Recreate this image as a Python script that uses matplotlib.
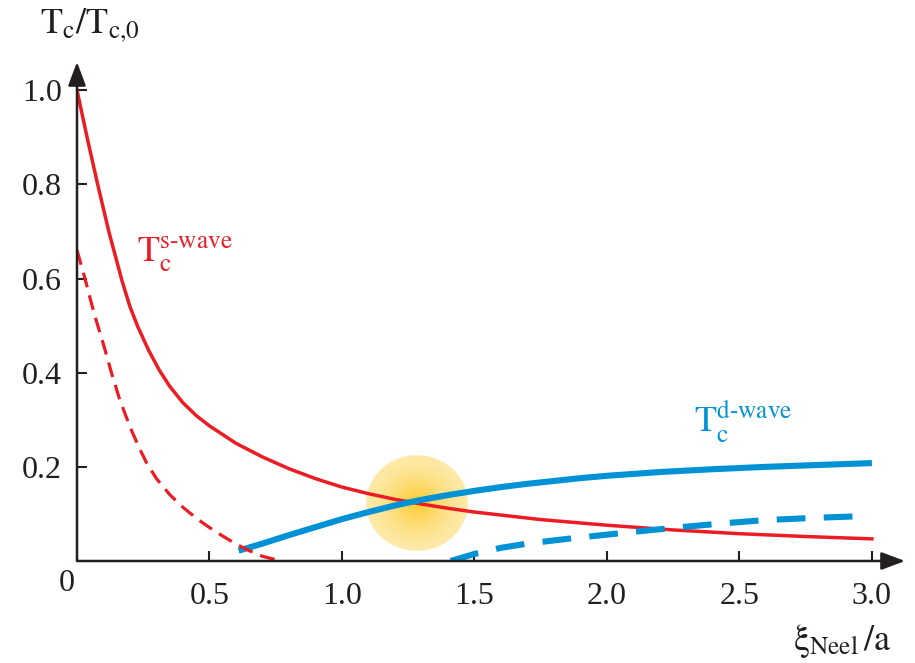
import matplotlib
matplotlib.use('Agg')
import matplotlib.pyplot as plt
import numpy as np

plt.rcParams['font.family'] = ['Liberation Serif', 'DejaVu Serif']
plt.rcParams['mathtext.fontset'] = 'stix'

# s-wave Tc (red), solid and dashed
s_x = [0.0, 0.04, 0.078, 0.12, 0.17, 0.20, 0.23, 0.27, 0.31, 0.35, 0.40, 0.45, 0.50,
       0.60, 0.70, 0.80, 0.90, 1.0, 1.1, 1.2, 1.3, 1.4, 1.5, 1.75, 2.0, 2.25, 2.5,
       2.75, 3.0]
s_y = [1.0, 0.895, 0.80, 0.70, 0.595, 0.54, 0.497, 0.448, 0.406, 0.371, 0.336, 0.309,
       0.287, 0.25, 0.221, 0.196, 0.175, 0.157, 0.143, 0.131, 0.121, 0.112, 0.104,
       0.088, 0.076, 0.066, 0.058, 0.052, 0.047]
s_dash_x = [0.0, 0.03, 0.065, 0.10, 0.13, 0.16, 0.20, 0.235, 0.263, 0.30, 0.35, 0.40,
            0.45, 0.50, 0.55, 0.60, 0.65, 0.70, 0.77]
s_dash_y = [0.66, 0.60, 0.525, 0.46, 0.40, 0.345, 0.285, 0.24, 0.208, 0.175, 0.141, 0.114,
            0.091, 0.071, 0.053, 0.036, 0.022, 0.01, 0.0]

# d-wave Tc (blue), solid and dashed
d_x = [0.61, 0.70, 0.80, 0.90, 1.0, 1.1, 1.2, 1.3, 1.4, 1.5, 1.6, 1.7, 1.8, 1.9, 2.0,
       2.2, 2.4, 2.6, 2.8, 3.0]
d_y = [0.022, 0.037, 0.055, 0.072, 0.089, 0.104, 0.118, 0.13, 0.14, 0.149, 0.157,
       0.164, 0.17, 0.176, 0.181, 0.189, 0.195, 0.20, 0.204, 0.208]
d_dash_x = [1.41, 1.50, 1.60, 1.70, 1.85, 2.0, 2.1, 2.3, 2.46, 2.6, 2.8, 2.95]
d_dash_y = [0.0, 0.015, 0.028, 0.037, 0.047, 0.056, 0.062, 0.073, 0.081, 0.087, 0.092, 0.095]

xticks = [0.5, 1.0, 1.5, 2.0, 2.5, 3.0]
yticks = [0.2, 0.4, 0.6, 0.8, 1.0]

red = '#ec1c24'
blue = '#0092d5'
dark = '#231f20'

W, H = 915, 663
fig = plt.figure(figsize=(W / 100, H / 100), dpi=100)
ax = fig.add_axes([77 / W, 1 - 561 / H, (905 - 77) / W, (561 - 62) / H])

# yellow glow at the crossing
cx, cy = 1.283, 0.123
rx, ry = 51 / 265, 48 / 471
n = 301
gx, gy = np.meshgrid(np.linspace(-1, 1, n), np.linspace(-1, 1, n))
r = np.hypot(gx, gy)
rgba = np.zeros((n, n, 4))
rgba[..., 0] = 0.99
rgba[..., 1] = 0.78
rgba[..., 2] = 0.10
rgba[..., 3] = np.where(r <= 1, 0.38 + 0.55 * np.clip(1 - r, 0, 1) ** 1.5, 0)
ax.imshow(rgba, extent=[cx - rx, cx + rx, cy - ry, cy + ry], origin='lower',
          aspect='auto', zorder=1, interpolation='bilinear')

ax.plot(s_x, s_y, color=red, lw=2.5, zorder=3)
ax.plot(d_x, d_y, color=blue, lw=4.4, zorder=4, solid_capstyle='butt')
ax.plot(d_dash_x, d_dash_y, color=blue, lw=4.4, zorder=4, dashes=(4.7, 3.0))
ax.plot(s_dash_x, s_dash_y, color=red, lw=2.3, zorder=5, dashes=(4.7, 2.6))

ax.set_xlim(0, 3.125)
ax.set_ylim(0, 1.06)

for s in ax.spines.values():
    s.set_visible(False)
arrow = dict(arrowstyle='-|>,head_length=0.8,head_width=0.3', mutation_scale=18,
             lw=1.8, color=dark, shrinkA=0, shrinkB=0)
ax.annotate('', xy=(1, 0), xytext=(0, 0), xycoords='axes fraction', arrowprops=arrow,
            annotation_clip=False, zorder=6)
ax.annotate('', xy=(0, 1), xytext=(0, 0), xycoords='axes fraction', arrowprops=arrow,
            annotation_clip=False, zorder=6)

ax.set_xticks(xticks)
ax.set_xticklabels(['%.1f' % v for v in xticks])
ax.set_yticks(yticks)
ax.set_yticklabels(['%.1f' % v for v in yticks])
ax.tick_params(direction='in', length=7, width=1.5, color=dark, labelcolor=dark,
               labelsize=23)
ax.tick_params(axis='x', pad=15)
ax.tick_params(axis='y', pad=11)
ax.text(-0.038, -0.047, '0', fontsize=23, color=dark, ha='center', va='center')

ax.text(0.226, 0.635, r'$\mathrm{T_c^{s\text{-}wave}}$', color=red, fontsize=26,
        ha='left', va='baseline')
ax.text(2.33, 0.274, r'$\mathrm{T_c^{d\text{-}wave}}$', color=blue, fontsize=26,
        ha='left', va='baseline')

fig.text(40 / W, 1 - 33 / H, r'$\mathrm{T_c/T_{c{,}0}}$', fontsize=26, color=dark,
         ha='left', va='baseline')
fig.text(793 / W, 1 - 650 / H, r'$\mathrm{ξ}_{\mathrm{Neel}}\,/\mathrm{a}$', fontsize=26,
         color=dark, ha='left', va='baseline')

fig.savefig('out.png', dpi=100)
